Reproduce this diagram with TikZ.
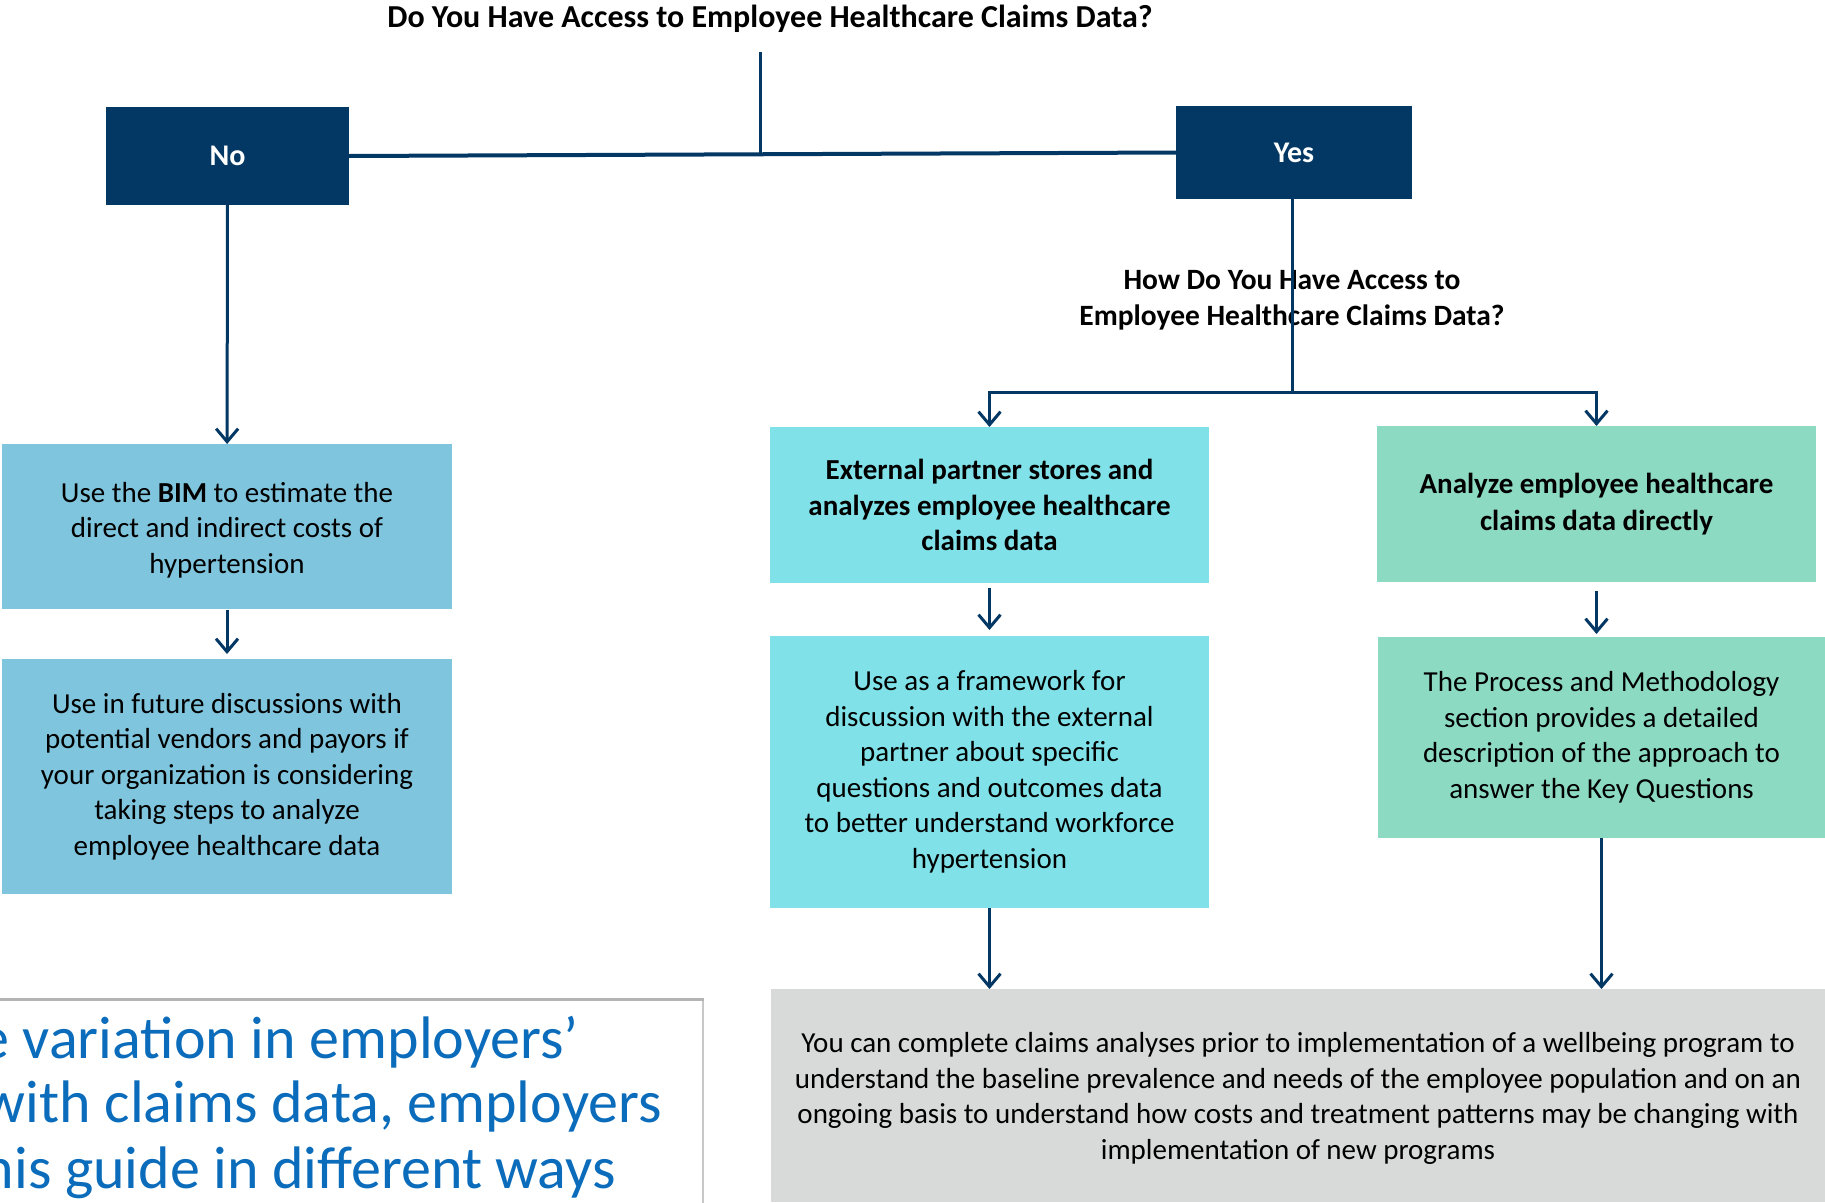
\documentclass[tikz,border=0pt]{standalone}
\usepackage{fontspec}
\setmainfont{Carlito}
\usetikzlibrary{arrows.meta}
\definecolor{navy}{RGB}{3,56,101}
\definecolor{bimc}{RGB}{127,197,222}
\definecolor{extc}{RGB}{128,226,232}
\definecolor{anac}{RGB}{140,218,193}
\definecolor{grayc}{RGB}{216,217,217}
\definecolor{bluetxt}{RGB}{10,108,186}
\definecolor{bordc}{RGB}{200,200,200}
\begin{document}
\begin{tikzpicture}[x=1pt,y=-1pt,
 box/.style={rectangle, inner sep=0pt, outer sep=0pt, align=center, font=\fontsize{29}{35.5}\selectfont},
 navybox/.style={rectangle, inner sep=0pt, outer sep=0pt, fill=navy, text=white, font=\fontsize{30}{34}\selectfont\bfseries},
 conn/.style={draw=navy, line width=3pt},
 arr/.style={conn, -{Straight Barb[length=13pt,width=22pt]}},
 head/.style={inner sep=0pt, align=center, font=\fontsize{29.5}{36}\selectfont\bfseries},
 blue/.style={anchor=east, inner sep=0pt, text=bluetxt, font=\fontsize{60}{70}\selectfont}
]
\useasboundingbox (0,0) rectangle (1825,1202);
\fill[white] (0,0) rectangle (1825,1202);

% top question
\node[head, font=\fontsize{32}{38}\selectfont\bfseries] (q1) at (770,19) {Do You Have Access to Employee Healthcare Claims Data?};
\node[navybox, minimum width=243, minimum height=98] (no) at (227.5,156) {No};
\node[navybox, minimum width=236, minimum height=93] (yes) at (1294,152.5) {Yes};
\coordinate (qfoot) at (760,52);
\coordinate (qjoin) at (760,154);
\draw[conn, line width=4pt] (no.east) -- (yes.west);
\draw[conn] (qfoot) -- (qjoin);

% second question
\node[head] (q2) at (1292,300) {How Do You Have Access to\\Employee Healthcare Claims Data?};
\coordinate (split) at (1292,392);
\draw[conn] (yes.south -| split) -- (split);

% boxes
\node[box, fill=bimc, minimum width=450, minimum height=165] (bim) at (227,526.5) {};
\node[box] (bimtxt) at (227,530) {Use the \textbf{BIM} to estimate the\\direct and indirect costs of\\hypertension};
\node[box, fill=bimc, minimum width=450, minimum height=235] (fut) at (227,776.5) {Use in future discussions with\\potential vendors and payors if\\your organization is considering\\taking steps to analyze\\employee healthcare data};
\node[box, fill=extc, minimum width=439, minimum height=156, font=\fontsize{29}{35.5}\selectfont\bfseries] (ext) at (989.5,505) {External partner stores and\\analyzes employee healthcare\\claims data};
\node[box, fill=anac, minimum width=439, minimum height=156, font=\fontsize{29}{37}\selectfont\bfseries] (ana) at (1596.5,504) {Analyze employee healthcare\\claims data directly};
\node[box, fill=extc, minimum width=439, minimum height=272] (frm) at (989.5,772) {Use as a framework for\\discussion with the external\\partner about specific\\questions and outcomes data\\to better understand workforce\\hypertension};
\node[box, fill=anac, minimum width=447, minimum height=201] (proc) at (1601.5,737.5) {The Process and Methodology\\section provides a detailed\\description of the approach to\\answer the Key Questions};
\node[box, fill=grayc, minimum width=1054, minimum height=213] (gray) at (1298,1095.5) {};
\node[box] (graytxt) at (1298,1098.5) {You can complete claims analyses prior to implementation of a wellbeing program to\\understand the baseline prevalence and needs of the employee population and on an\\ongoing basis to understand how costs and treatment patterns may be changing with\\implementation of new programs};

% connectors
\draw[arr] (no) -- (bim);
\draw[arr, shorten <=1pt, shorten >=5pt] (bim) -- (fut);
\draw[arr] (split) -| (ext.north);
\draw[arr] (split) -| (ana.north);
\draw[arr, shorten <=5pt, shorten >=6pt] (ext) -- (frm);
\draw[arr, shorten <=9pt, shorten >=3pt] (ana.south) -- (ana.south |- proc.north);
\draw[arr] (frm) -- (frm |- gray.north);
\draw[arr] (proc) -- (proc |- gray.north);

% note box (cut off)
\node[rectangle, draw=bordc, line width=2pt, minimum width=710, minimum height=220, anchor=north west, inner sep=0pt] (note) at (-8,999) {};
\draw[draw=bordc!90!black, line width=3pt] (note.north west) -- (note.north east);
\begin{scope}
\clip (0,1000) rectangle (702,1202);
\node[blue] (n1) at (579,1042) {e variation in employers’};
\node[blue] (n2) at (662,1106) {with claims data, employers};
\node[blue] (n3) at (616,1173) {his guide in different ways};
\end{scope}
\end{tikzpicture}
\end{document}
